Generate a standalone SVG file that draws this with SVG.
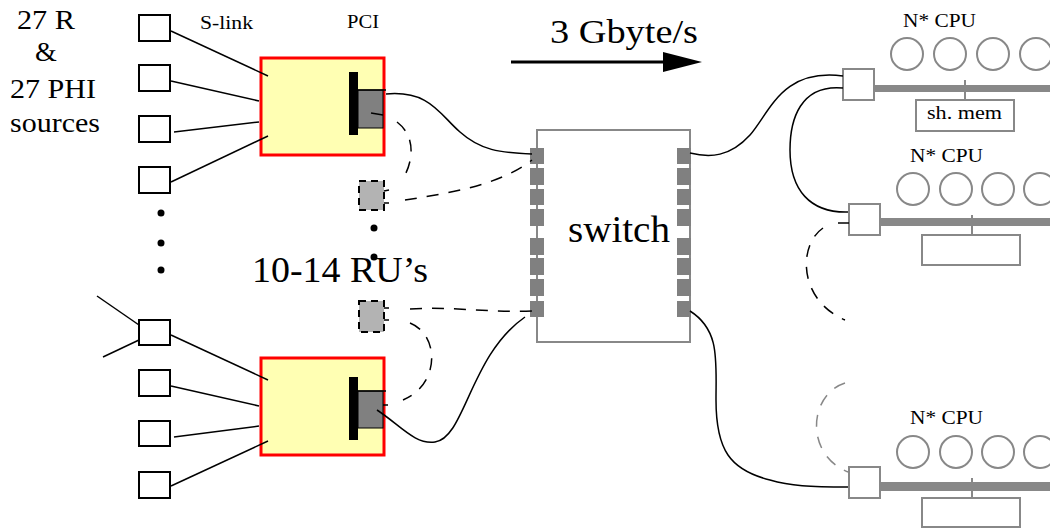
<svg xmlns="http://www.w3.org/2000/svg" width="1050" height="529" viewBox="0 0 1050 529">
<style>
.t{font-family:"Liberation Serif","Times New Roman",serif;fill:#000}
.src{fill:#fff;stroke:#000;stroke-width:2}
.ln{fill:none;stroke:#000;stroke-width:1.5}
.dash{fill:none;stroke:#000;stroke-width:1.5;stroke-dasharray:12 10}
.gdash{fill:none;stroke:#888;stroke-width:1.5;stroke-dasharray:12 10}
.ru{fill:#ffffb3;stroke:#f00;stroke-width:3}
.bar{fill:#000}
.pci{fill:#808080;stroke:#000;stroke-width:1}
.vru{fill:#b3b3b3;stroke:#000;stroke-width:2;stroke-dasharray:7 5}
.port{fill:#808080}
.g{fill:#fff;stroke:#888;stroke-width:2}
.cpu{fill:none;stroke:#888;stroke-width:2}
.bus{fill:#888}
</style>
<defs>
<marker id="ah" markerWidth="40" markerHeight="22" refX="0" refY="11" orient="auto" markerUnits="userSpaceOnUse">
<path d="M0,1 L39,11 L0,21 Z" fill="#000"/>
</marker>
</defs>

<g id="label-sources">
<text class="t" x="17" y="29" font-size="28" textLength="58" lengthAdjust="spacingAndGlyphs">27 R</text>
<text class="t" x="35" y="61" font-size="28">&amp;</text>
<text class="t" x="10" y="98" font-size="28" textLength="86" lengthAdjust="spacingAndGlyphs">27 PHI</text>
<text class="t" x="10" y="132" font-size="28" textLength="90" lengthAdjust="spacingAndGlyphs">sources</text>
</g>
<g id="label-slink"><text class="t" x="200" y="29" font-size="19" textLength="53" lengthAdjust="spacingAndGlyphs">S-link</text></g>
<g id="label-pci"><text class="t" x="347" y="28" font-size="19" textLength="32" lengthAdjust="spacingAndGlyphs">PCI</text></g>
<g id="label-rate">
<text class="t" x="550" y="43" font-size="33" textLength="148" lengthAdjust="spacingAndGlyphs">3 Gbyte/s</text>
<line x1="511" y1="62" x2="663" y2="62" stroke="#000" stroke-width="3" marker-end="url(#ah)"/>
</g>
<g id="label-rus"><text class="t" x="252" y="282" font-size="36" textLength="176" lengthAdjust="spacingAndGlyphs">10-14 RU’s</text></g>

<g id="sources-top">
<rect class="src" x="139" y="15" width="31" height="26"/>
<rect class="src" x="139" y="65" width="31" height="26"/>
<rect class="src" x="139" y="116" width="31" height="26"/>
<rect class="src" x="139" y="167" width="31" height="26"/>
<circle cx="161" cy="213" r="3.5"/>
<circle cx="161" cy="243" r="3.5"/>
<circle cx="161" cy="270" r="3.5"/>
</g>
<g id="sources-bottom">
<rect class="src" x="139" y="320" width="31" height="25"/>
<rect class="src" x="139" y="370" width="31" height="26"/>
<rect class="src" x="139" y="421" width="31" height="25"/>
<rect class="src" x="139" y="472" width="31" height="26"/>
</g>

<g id="ru-top">
<rect class="ru" x="261" y="58" width="123" height="97"/>
<rect class="pci" x="358" y="90" width="25" height="38"/>
<rect class="bar" x="349" y="72" width="9" height="63"/>
<line x1="358" y1="90" x2="386" y2="90" stroke="#000" stroke-width="1.5"/>
<line x1="371" y1="113" x2="383" y2="115" stroke="#000" stroke-width="1.5"/>
</g>
<g id="ru-bottom">
<rect class="ru" x="261" y="358" width="123" height="97"/>
<rect class="pci" x="358" y="391" width="25" height="37"/>
<rect class="bar" x="349" y="377" width="9" height="63"/>
<line x1="358" y1="391" x2="386" y2="391" stroke="#000" stroke-width="1.5"/>
<line x1="383" y1="405" x2="388" y2="405" stroke="#000" stroke-width="1.5"/>
</g>
<g id="vru-1">
<rect class="vru" x="359" y="181" width="25" height="29"/>
<line x1="384" y1="191" x2="389" y2="190" stroke="#000" stroke-width="1.5"/>
<line x1="384" y1="203" x2="389" y2="203" stroke="#000" stroke-width="1.5"/>
<circle cx="374" cy="228" r="3.5"/>
<circle cx="374" cy="257" r="3.5"/>
</g>
<g id="vru-2">
<rect class="vru" x="359" y="301" width="25" height="31"/>
<line x1="384" y1="308" x2="389" y2="308" stroke="#000" stroke-width="1.5"/>
<line x1="384" y1="320" x2="389" y2="320" stroke="#000" stroke-width="1.5"/>
</g>

<g id="switch">
<rect x="537" y="130" width="153" height="212" fill="#fff" stroke="#888" stroke-width="2"/>
<g class="port">
<rect x="530" y="148" width="14" height="16"/><rect x="530" y="168" width="14" height="17"/>
<rect x="530" y="189" width="14" height="16"/><rect x="530" y="209" width="14" height="17"/>
<rect x="530" y="238" width="14" height="17"/><rect x="530" y="258" width="14" height="17"/>
<rect x="530" y="279" width="14" height="17"/><rect x="530" y="301" width="14" height="16"/>
<rect x="677" y="148" width="14" height="16"/><rect x="677" y="168" width="14" height="17"/>
<rect x="677" y="189" width="14" height="16"/><rect x="677" y="209" width="14" height="17"/>
<rect x="677" y="238" width="14" height="17"/><rect x="677" y="258" width="14" height="17"/>
<rect x="677" y="279" width="14" height="17"/><rect x="677" y="301" width="14" height="16"/>
</g>
<text class="t" x="568" y="242" font-size="38" textLength="102" lengthAdjust="spacingAndGlyphs">switch</text>
</g>

<g id="cpu-1">
<text class="t" x="903" y="27" font-size="19" textLength="73" lengthAdjust="spacingAndGlyphs">N* CPU</text>
<circle class="cpu" cx="907" cy="54" r="16"/><circle class="cpu" cx="950" cy="54" r="16"/>
<circle class="cpu" cx="993" cy="54" r="16"/><circle class="cpu" cx="1036" cy="54" r="16"/>
<rect class="bus" x="870" y="85" width="180" height="7"/>
<line x1="965" y1="80" x2="965" y2="100" stroke="#888" stroke-width="2"/>
<rect class="g" x="843" y="69" width="31" height="31"/>
<rect class="g" x="916" y="100" width="98" height="31"/>
<text class="t" x="927" y="119" font-size="19" textLength="75" lengthAdjust="spacingAndGlyphs">sh. mem</text>
</g>
<g id="cpu-2">
<text class="t" x="910" y="162" font-size="19" textLength="73" lengthAdjust="spacingAndGlyphs">N* CPU</text>
<circle class="cpu" cx="913" cy="189" r="16"/><circle class="cpu" cx="956" cy="189" r="16"/>
<circle class="cpu" cx="998" cy="189" r="16"/><circle class="cpu" cx="1040" cy="189" r="16"/>
<rect class="bus" x="877" y="218" width="173" height="8"/>
<line x1="972" y1="215" x2="972" y2="235" stroke="#888" stroke-width="2"/>
<rect class="g" x="849" y="204" width="31" height="31"/>
<rect class="g" x="922" y="235" width="98" height="30"/>
</g>
<g id="cpu-3">
<text class="t" x="910" y="424" font-size="19" textLength="73" lengthAdjust="spacingAndGlyphs">N* CPU</text>
<circle class="cpu" cx="913" cy="452" r="16"/><circle class="cpu" cx="956" cy="452" r="16"/>
<circle class="cpu" cx="998" cy="452" r="16"/><circle class="cpu" cx="1040" cy="452" r="16"/>
<rect class="bus" x="877" y="482" width="173" height="9"/>
<line x1="972" y1="478" x2="972" y2="498" stroke="#888" stroke-width="2"/>
<rect class="g" x="849" y="467" width="31" height="31"/>
<rect class="g" x="922" y="498" width="98" height="29"/>
</g>

<g id="connectors">
<path class="ln" d="M171,31 L268,76"/>
<path class="ln" d="M171,81 L259,101"/>
<path class="ln" d="M174,132 L259,122"/>
<path class="ln" d="M171,182 L268,136"/>
<path class="ln" d="M171,335 L268,380"/>
<path class="ln" d="M171,386 L259,406"/>
<path class="ln" d="M174,437 L259,426"/>
<path class="ln" d="M171,486 L268,441"/>
<path class="ln" d="M97,296 L139,325"/>
<path class="ln" d="M103,357 L139,340"/>
<path class="ln" d="M386,94 C430,90 440,115 460,132 C480,150 500,153 532,154"/>
<path class="dash" d="M397,122 C418,138 412,165 402,180"/>
<path class="dash" d="M405,200 C450,193 500,185 532,160"/>
<path class="dash" d="M410,309 C450,306 490,313 532,311"/>
<path class="dash" d="M410,323 C440,335 440,385 403,400"/>
<path class="ln" d="M377,410 C400,425 415,445 435,442 C465,438 470,355 525,317"/>
<path class="ln" d="M690,153 C710,158 730,157 750,135 C770,112 782,68 843,76"/>
<path class="ln" d="M843,88 C800,84 790,120 790,150 C790,190 810,213 848,212"/>
<line x1="838" y1="223" x2="849" y2="223" stroke="#000" stroke-width="1.5"/>
<path class="dash" d="M823,228 C798,245 798,300 845,320"/>
<path class="gdash" d="M845,383 C808,395 805,455 848,472"/>
<path class="ln" d="M690,311 C720,330 716,360 716,400 C716,450 730,470 770,480 C790,486 810,487 848,487"/>
</g>
</svg>
